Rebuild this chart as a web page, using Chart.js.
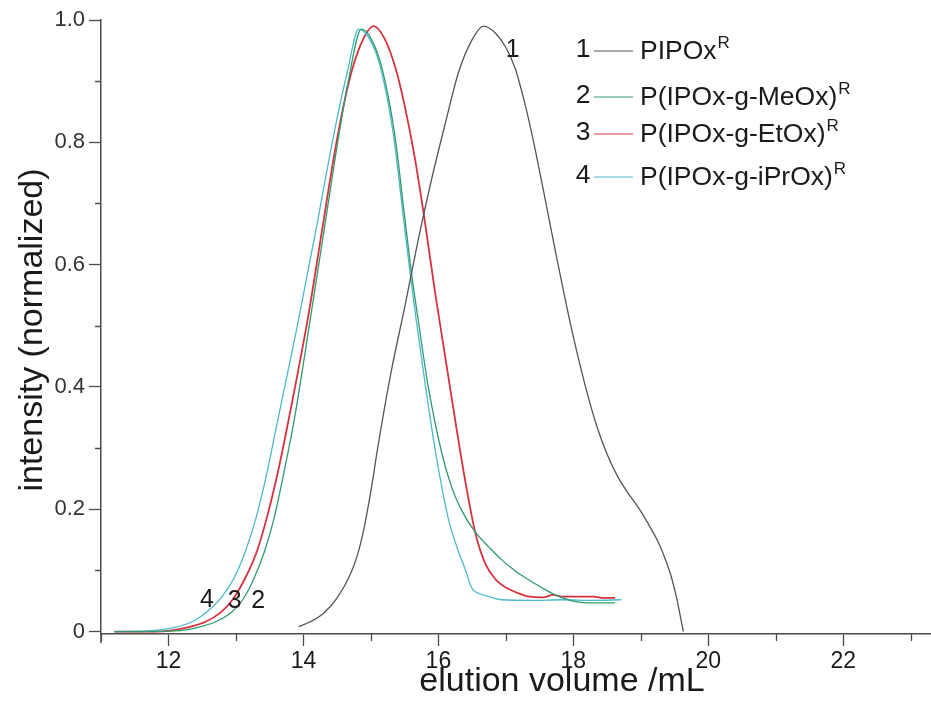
<!DOCTYPE html>
<html>
<head>
<meta charset="utf-8">
<script src="https://cdn.jsdelivr.net/npm/chart.js@4.4.1/dist/chart.umd.min.js"></script>
<style>
  html, body { margin: 0; padding: 0; background: #fff; }
  #wrap { width: 931px; height: 705px; }
</style>
</head>
<body>
<div id="wrap"><canvas id="gpcChart"></canvas></div>
<script>
// SEC traces, elution volume (mL) vs normalized intensity
const pipoxVol = [13.93,14.1,14.3,14.5,14.7,14.8,14.9,15.0,15.1,15.3,15.5,15.7,15.9,16.1,16.3,16.5,16.67,16.85,17.0,17.14,17.3,17.45,17.6,17.75,17.9,18.05,18.2,18.35,18.5,18.65,18.8,18.95,19.1,19.25,19.35,19.45,19.53,19.58,19.63];
const pipoxInt = [0.008,0.016,0.03,0.055,0.095,0.125,0.17,0.23,0.3,0.425,0.53,0.64,0.74,0.83,0.915,0.968,0.99,0.978,0.955,0.92,0.855,0.78,0.697,0.613,0.532,0.458,0.392,0.335,0.29,0.255,0.228,0.205,0.178,0.148,0.122,0.09,0.055,0.028,0.0];

const meoxVol = [11.2,11.6,12.1,12.44,12.7,12.93,13.1,13.26,13.42,13.56,13.72,13.87,14.1,14.3,14.49,14.66,14.86,15.0,15.16,15.35,15.5,15.6,15.7,15.85,16.05,16.2,16.34,16.55,16.75,16.93,17.13,17.33,17.53,17.73,17.9,18.03,18.3,18.62];
const meoxInt = [0,0,0.001,0.007,0.016,0.031,0.052,0.085,0.13,0.183,0.265,0.35,0.51,0.652,0.788,0.897,0.985,0.97,0.923,0.815,0.678,0.587,0.51,0.40,0.292,0.235,0.199,0.162,0.138,0.118,0.1,0.085,0.072,0.06,0.053,0.049,0.047,0.047];

const etoxVol = [11.2,11.8,12.0,12.25,12.55,12.77,12.95,13.14,13.3,13.45,13.62,13.78,14.07,14.27,14.47,14.67,14.85,15.04,15.2,15.36,15.5,15.65,15.8,15.95,16.1,16.25,16.4,16.55,16.7,16.85,17.0,17.2,17.35,17.55,17.7,17.85,18.3,18.45,18.62];
const etoxInt = [0,0,0.001,0.006,0.016,0.031,0.052,0.088,0.128,0.183,0.26,0.346,0.515,0.652,0.788,0.897,0.96,0.99,0.97,0.923,0.86,0.775,0.67,0.555,0.45,0.345,0.245,0.16,0.11,0.085,0.072,0.062,0.057,0.056,0.06,0.057,0.057,0.055,0.055];

const iproxVol = [11.2,11.8,12.1,12.35,12.56,12.78,12.96,13.13,13.29,13.45,13.6,13.75,13.9,14.05,14.2,14.35,14.5,14.65,14.82,15.0,15.14,15.33,15.48,15.58,15.67,15.81,15.96,16.15,16.3,16.4,16.49,16.55,16.75,16.93,17.4,17.82,18.3,18.71];
const iproxInt = [0,0.002,0.007,0.016,0.031,0.055,0.085,0.128,0.183,0.255,0.335,0.415,0.495,0.58,0.665,0.755,0.84,0.915,0.985,0.965,0.923,0.815,0.678,0.587,0.51,0.40,0.292,0.183,0.13,0.101,0.072,0.065,0.057,0.052,0.051,0.052,0.051,0.052];

const seriesNames = ['PIPOx', 'P(IPOx-g-MeOx)', 'P(IPOx-g-EtOx)', 'P(IPOx-g-iPrOx)'];
const seriesColors = ['#555555', '#2f9a6c', '#d8323f', '#4cb9cc'];

const xTitle = 'elution volume /mL';
const yTitle = 'intensity (normalized)';

const toPoints = (xs, ys) => xs.map((x, i) => ({ x: x, y: ys[i] }));

const axisColor = '#4a4a4a';
const textColor = '#1a1a1a';

const isMinorX = (v) => Math.round(v) % 2 !== 0;
const isMinorY = (v) => Math.round(v * 10) % 2 !== 0;

// titles, legend, short minor ticks and curve numbers drawn on top
const overlayPlugin = {
  id: 'overlay',
  afterDraw(chart) {
    const c = chart.ctx;
    const xs = chart.scales.x, ys = chart.scales.y;
    const area = chart.chartArea;
    c.save();

    // minor ticks + y axis stub below the x axis
    c.strokeStyle = axisColor;
    c.lineWidth = 1.3;
    c.beginPath();
    xs.ticks.forEach(t => {
      if (!isMinorX(t.value)) return;
      const px = Math.round(xs.getPixelForValue(t.value)) + 0.5;
      c.moveTo(px, area.bottom);
      c.lineTo(px, area.bottom + 7);
    });
    ys.ticks.forEach(t => {
      if (!isMinorY(t.value)) return;
      const py = Math.round(ys.getPixelForValue(t.value)) + 0.5;
      c.moveTo(area.left - 6, py);
      c.lineTo(area.left, py);
    });
    c.stroke();
    c.lineWidth = 1.5;
    c.beginPath();
    c.moveTo(area.left, area.bottom);
    c.lineTo(area.left, area.bottom + 9);
    c.stroke();

    c.fillStyle = textColor;
    c.textBaseline = 'middle';

    // axis titles
    c.font = '34px "Liberation Sans", Arial, sans-serif';
    c.textAlign = 'center';
    c.fillText(xTitle, 562, 682);
    c.save();
    c.translate(33, 330);
    c.rotate(-Math.PI / 2);
    c.fillText(yTitle, 0, 0);
    c.restore();

    // curve numbers
    c.font = '25px "Liberation Sans", Arial, sans-serif';
    c.fillText('1', xs.getPixelForValue(17.1), ys.getPixelForValue(0.95));
    c.fillText('4', xs.getPixelForValue(12.57), ys.getPixelForValue(0.051));
    c.fillText('3', xs.getPixelForValue(12.98), ys.getPixelForValue(0.050));
    c.fillText('2', xs.getPixelForValue(13.33), ys.getPixelForValue(0.050));

    // legend
    const rows = [50, 96, 133, 176];
    rows.forEach((yy, i) => {
      c.font = '26.5px "Liberation Sans", Arial, sans-serif';
      c.textAlign = 'center';
      c.fillText(String(i + 1), 583, yy);
      c.strokeStyle = seriesColors[i];
      c.lineWidth = 1.2;
      c.beginPath();
      c.moveTo(594, yy + 1);
      c.lineTo(633, yy + 1);
      c.stroke();
      c.textAlign = 'left';
      c.fillText(seriesNames[i], 640, yy + 2);
      const w = c.measureText(seriesNames[i]).width;
      c.font = '17px "Liberation Sans", Arial, sans-serif';
      c.fillText('R', 640 + w + 1, yy - 7);
    });
    c.restore();
  }
};

const lineSet = (label, xs, ys, color, width) => ({
  label: label,
  data: toPoints(xs, ys),
  borderColor: color,
  borderWidth: width,
  pointRadius: 0,
  fill: false,
  cubicInterpolationMode: 'monotone'
});

const ctx = document.getElementById('gpcChart').getContext('2d');
const gpcChart = new Chart(ctx, {
  type: 'line',
  data: {
    datasets: [
      lineSet(seriesNames[0], pipoxVol, pipoxInt, seriesColors[0], 1.3),
      lineSet(seriesNames[1], meoxVol, meoxInt, seriesColors[1], 1.3),
      lineSet(seriesNames[3], iproxVol, iproxInt, seriesColors[3], 1.3),
      lineSet(seriesNames[2], etoxVol, etoxInt, seriesColors[2], 1.8)
    ]
  },
  options: {
    responsive: true,
    maintainAspectRatio: false,
    animation: false,
    layout: { padding: { top: 20, right: 0, bottom: 0, left: 0 } },
    plugins: {
      legend: { display: false },
      tooltip: { enabled: false }
    },
    scales: {
      x: {
        type: 'linear',
        min: 11,
        max: 23.3,
        afterFit: (s) => { s.height = 71; },
        border: { display: true, color: axisColor, width: 1.5 },
        grid: {
          drawOnChartArea: false, drawTicks: true, tickLength: 12, tickWidth: 1.3,
          color: axisColor,
          tickColor: (c) => (c.tick && isMinorX(c.tick.value) ? 'rgba(0,0,0,0)' : axisColor)
        },
        ticks: {
          stepSize: 1,
          includeBounds: false,
          maxRotation: 0,
          autoSkip: false,
          padding: 2,
          color: textColor,
          font: { family: '"Liberation Sans Narrow", "Liberation Sans", Arial, sans-serif', size: 23 },
          callback: (v) => (isMinorX(v) ? '' : String(Math.round(v)))
        }
      },
      y: {
        type: 'linear',
        min: -0.004,
        max: 1.0,
        afterFit: (s) => { s.width = 101; },
        border: { display: true, color: axisColor, width: 1.5 },
        grid: {
          drawOnChartArea: false, drawTicks: true, tickLength: 12, tickWidth: 1.3,
          color: axisColor,
          tickColor: (c) => (c.tick && isMinorY(c.tick.value) ? 'rgba(0,0,0,0)' : axisColor)
        },
        ticks: {
          stepSize: 0.1,
          includeBounds: false,
          autoSkip: false,
          padding: 4,
          color: '#333333',
          font: { family: '"Liberation Sans", Arial, sans-serif', size: 22 },
          callback: (v) => {
            if (isMinorY(v)) return '';
            const k = Math.round(v * 10);
            return k === 0 ? '0' : (k / 10).toFixed(1);
          }
        }
      }
    }
  },
  plugins: [overlayPlugin]
});
</script>
</body>
</html>
